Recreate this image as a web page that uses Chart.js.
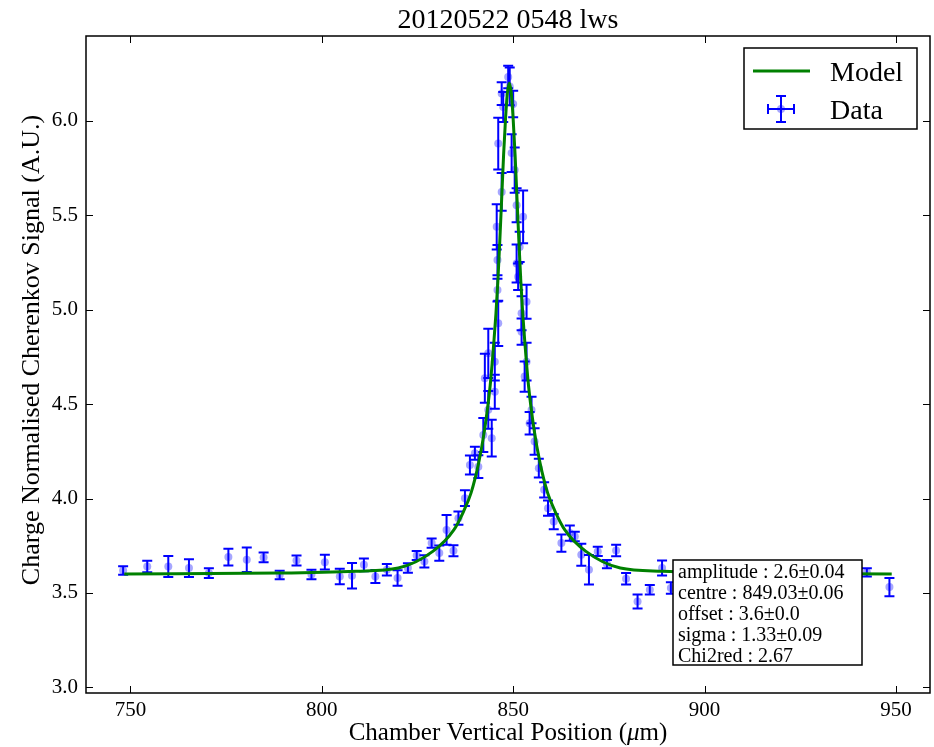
<!DOCTYPE html>
<html>
<head>
<meta charset="utf-8">
<script src="https://cdn.jsdelivr.net/npm/chart.js@4.4.0/dist/chart.umd.min.js"></script>
<style>
  body { margin: 0; background: #fff; }
  canvas { display: block; }
</style>
</head>
<body>
<canvas id="scan" width="934" height="747"></canvas>
<script>
// measured scan points (position, signal, error on signal)
const dataX = [748.1, 754.4, 759.9, 765.3, 770.5, 775.6, 780.4, 784.8, 789.0, 793.4,
  797.3, 800.8, 804.7, 807.9, 811.0, 814.0, 817.0, 819.8, 822.5, 824.8,
  826.8, 828.7, 830.7, 832.6, 834.4, 835.7, 837.4, 838.7, 840.0, 840.9,
  842.2, 842.6, 843.5, 843.5, 844.4, 845.2, 845.2, 845.7, 845.9, 845.9,
  846.1, 846.1, 847.0, 847.0, 847.4, 848.7, 849.1, 849.6, 850.0, 850.4,
  850.9, 850.9, 851.3, 851.7, 852.2, 852.2, 852.6, 853.0, 853.5, 853.5,
  854.3, 854.8, 855.6, 856.7, 858.1, 859.1, 860.6, 862.6, 864.8, 866.1,
  867.8, 869.8, 872.1, 874.5, 876.9, 879.5, 882.5, 885.7, 888.9, 891.2,
  942.4, 948.3];
const dataY = [3.619, 3.640, 3.640, 3.632, 3.605, 3.690, 3.676, 3.688, 3.595, 3.672,
  3.598, 3.663, 3.587, 3.591, 3.649, 3.587, 3.623, 3.579, 3.632, 3.698,
  3.667, 3.764, 3.711, 3.834, 3.723, 3.896, 4.002, 4.178, 4.240, 4.169,
  4.337, 4.637, 4.470, 4.769, 4.320, 4.566, 4.725, 5.439, 5.104, 5.263,
  4.928, 5.880, 5.624, 6.145, 6.074, 6.233, 6.183, 5.830, 6.090, 5.740,
  5.554, 5.245, 5.175, 5.333, 4.981, 4.884, 5.492, 4.646, 5.042, 4.725,
  4.399, 4.469, 4.302, 4.161, 4.046, 3.949, 3.878, 3.764, 3.817, 3.799,
  3.702, 3.623, 3.720, 3.653, 3.725, 3.575, 3.455, 3.517, 3.632, 3.526,
  3.609, 3.531];
const dataErr = [0.022, 0.031, 0.056, 0.047, 0.026, 0.044, 0.065, 0.026, 0.022, 0.026,
  0.025, 0.039, 0.041, 0.067, 0.034, 0.034, 0.030, 0.041, 0.025, 0.024,
  0.032, 0.024, 0.040, 0.079, 0.029, 0.035, 0.042, 0.050, 0.035, 0.060,
  0.090, 0.130, 0.100, 0.130, 0.097, 0.090, 0.100, 0.120, 0.060, 0.080,
  0.120, 0.137, 0.100, 0.060, 0.080, 0.060, 0.100, 0.100, 0.070, 0.120,
  0.090, 0.100, 0.070, 0.080, 0.090, 0.070, 0.140, 0.080, 0.090, 0.100,
  0.060, 0.070, 0.070, 0.050, 0.040, 0.040, 0.040, 0.046, 0.040, 0.025,
  0.058, 0.078, 0.024, 0.022, 0.030, 0.030, 0.037, 0.025, 0.040, 0.030,
  0.022, 0.048];

// fitted model curve
const modelX = [748.4, 789, 809, 820, 829, 834.5, 837, 839, 841, 842.5,
  844, 845, 845.5, 846, 846.5, 847, 847.5, 848, 848.5, 849,
  849.5, 850, 850.5, 851, 851.5, 852, 852.5, 853, 854, 855.5,
  857, 859, 861, 863.5, 869, 878, 889, 909, 948.9];
const modelY = [3.600, 3.605, 3.615, 3.632, 3.720, 3.834, 3.930, 4.030, 4.190, 4.360,
  4.600, 4.840, 4.980, 5.150, 5.360, 5.590, 5.820, 6.010, 6.150, 6.200,
  6.150, 6.010, 5.820, 5.590, 5.360, 5.150, 4.980, 4.840, 4.600, 4.360,
  4.190, 4.030, 3.930, 3.834, 3.720, 3.632, 3.615, 3.605, 3.600];

const xTicks = [750, 800, 850, 900, 950];
const yTicks = [3.0, 3.5, 4.0, 4.5, 5.0, 5.5, 6.0];
const fitLines = ['amplitude : 2.6\u00b10.04', 'centre : 849.03\u00b10.06',
  'offset : 3.6\u00b10.0', 'sigma : 1.33\u00b10.09', 'Chi2red : 2.67'];

const FONT = "'Liberation Serif', 'DejaVu Serif', serif";
const BLUE = '#0000ff';
const GREEN = '#008000';
const DOT = 'rgba(0,0,255,0.35)';

// error bars under the markers
const errorBars = {
  id: 'errorBars',
  beforeDatasetsDraw(chart) {
    const { ctx, chartArea, scales: { x, y } } = chart;
    ctx.save();
    ctx.beginPath();
    ctx.rect(chartArea.left, chartArea.top, chartArea.right - chartArea.left, chartArea.bottom - chartArea.top);
    ctx.clip();
    ctx.strokeStyle = BLUE;
    ctx.lineWidth = 2;
    dataX.forEach((v, i) => {
      const px = x.getPixelForValue(v);
      const top = y.getPixelForValue(dataY[i] + dataErr[i]);
      const bot = y.getPixelForValue(dataY[i] - dataErr[i]);
      ctx.beginPath();
      ctx.moveTo(px, top); ctx.lineTo(px, bot);
      ctx.moveTo(px - 5, top); ctx.lineTo(px + 5, top);
      ctx.moveTo(px - 5, bot); ctx.lineTo(px + 5, bot);
      ctx.stroke();
    });
    ctx.restore();
  }
};

// frame, inward ticks, titles, legend and fit box
const decorations = {
  id: 'decorations',
  afterDraw(chart) {
    const { ctx, chartArea: ca, scales: { x, y } } = chart;
    ctx.save();

    // inward tick marks on all four sides
    ctx.strokeStyle = '#000';
    ctx.lineWidth = 1;
    xTicks.forEach(v => {
      const px = Math.round(x.getPixelForValue(v)) + 0.5;
      ctx.beginPath();
      ctx.moveTo(px, ca.bottom); ctx.lineTo(px, ca.bottom - 7);
      ctx.moveTo(px, ca.top); ctx.lineTo(px, ca.top + 7);
      ctx.stroke();
    });
    yTicks.forEach(v => {
      const py = Math.round(y.getPixelForValue(v)) + 0.5;
      ctx.beginPath();
      ctx.moveTo(ca.left, py); ctx.lineTo(ca.left + 7, py);
      ctx.moveTo(ca.right, py); ctx.lineTo(ca.right - 7, py);
      ctx.stroke();
    });

    // frame
    ctx.lineWidth = 1.5;
    ctx.strokeRect(ca.left, ca.top, ca.right - ca.left, ca.bottom - ca.top);

    // title
    const cx = (ca.left + ca.right) / 2;
    ctx.fillStyle = '#000';
    ctx.textAlign = 'center';
    ctx.textBaseline = 'alphabetic';
    ctx.font = '28px ' + FONT;
    ctx.fillText('20120522 0548 lws', cx, 28);

    // x axis title with italic mu
    const parts = [['Chamber Vertical Position (', false], ['\u03bc', true], ['m)', false]];
    ctx.textAlign = 'left';
    let total = 0;
    parts.forEach(p => {
      ctx.font = (p[1] ? 'italic ' : '') + '25px ' + FONT;
      total += ctx.measureText(p[0]).width;
    });
    let sx = cx - total / 2;
    parts.forEach(p => {
      ctx.font = (p[1] ? 'italic ' : '') + '25px ' + FONT;
      ctx.fillText(p[0], sx, 740);
      sx += ctx.measureText(p[0]).width;
    });

    // y axis title
    ctx.save();
    ctx.translate(39, 350);
    ctx.rotate(-Math.PI / 2);
    ctx.textAlign = 'center';
    ctx.font = '26px ' + FONT;
    ctx.fillText('Charge Normalised Cherenkov Signal (A.U.)', 0, 0);
    ctx.restore();

    // legend
    const lx = ca.right - 186, ly = ca.top + 12;
    ctx.fillStyle = '#fff';
    ctx.fillRect(lx, ly, 173, 81);
    ctx.strokeStyle = '#000';
    ctx.lineWidth = 1.5;
    ctx.strokeRect(lx, ly, 173, 81);
    ctx.strokeStyle = GREEN;
    ctx.lineWidth = 3;
    ctx.beginPath();
    ctx.moveTo(lx + 9, ly + 23); ctx.lineTo(lx + 66, ly + 23);
    ctx.stroke();
    const gx = lx + 37, gy = ly + 61;
    ctx.fillStyle = DOT;
    ctx.beginPath(); ctx.arc(gx, gy, 4, 0, Math.PI * 2); ctx.fill();
    ctx.strokeStyle = BLUE;
    ctx.lineWidth = 2;
    ctx.beginPath();
    ctx.moveTo(gx - 13, gy); ctx.lineTo(gx + 13, gy);
    ctx.moveTo(gx - 13, gy - 5); ctx.lineTo(gx - 13, gy + 5);
    ctx.moveTo(gx + 13, gy - 5); ctx.lineTo(gx + 13, gy + 5);
    ctx.moveTo(gx, gy - 13); ctx.lineTo(gx, gy + 13);
    ctx.moveTo(gx - 5, gy - 13); ctx.lineTo(gx + 5, gy - 13);
    ctx.moveTo(gx - 5, gy + 13); ctx.lineTo(gx + 5, gy + 13);
    ctx.stroke();
    ctx.fillStyle = '#000';
    ctx.textAlign = 'left';
    ctx.font = '28px ' + FONT;
    ctx.fillText('Model', lx + 86, ly + 33);
    ctx.fillText('Data', lx + 86, ly + 71);

    // fit results box
    const bx = ca.left + 587, by = ca.top + 524;
    ctx.fillStyle = '#fff';
    ctx.fillRect(bx, by, 189, 105);
    ctx.strokeStyle = '#000';
    ctx.lineWidth = 1.5;
    ctx.strokeRect(bx, by, 189, 105);
    ctx.fillStyle = '#000';
    ctx.font = '20px ' + FONT;
    fitLines.forEach((t, i) => ctx.fillText(t, bx + 5, by + 18 + i * 21));

    ctx.restore();
  }
};

const ctx = document.getElementById('scan').getContext('2d');
new Chart(ctx, {
  type: 'scatter',
  data: {
    datasets: [
      {
        label: 'Model',
        data: modelX.map((v, i) => ({ x: v, y: modelY[i] })),
        showLine: true,
        borderColor: GREEN,
        borderWidth: 3,
        pointRadius: 0,
        cubicInterpolationMode: 'monotone',
        fill: false
      },
      {
        label: 'Data',
        data: dataX.map((v, i) => ({ x: v, y: dataY[i] })),
        pointRadius: 4,
        pointBackgroundColor: DOT,
        pointBorderWidth: 0,
        showLine: false
      }
    ]
  },
  options: {
    responsive: false,
    animation: false,
    layout: { padding: { top: 36, right: 3, left: 0, bottom: 0 } },
    plugins: {
      legend: { display: false },
      tooltip: { enabled: false },
      title: { display: false }
    },
    scales: {
      x: {
        type: 'linear',
        min: 738.4,
        max: 958.9,
        afterBuildTicks: s => { s.ticks = xTicks.map(v => ({ value: v })); },
        afterFit: s => { s.height = 54; },
        grid: { display: false, drawTicks: false },
        border: { display: false },
        ticks: { color: '#000', padding: 5, maxRotation: 0, font: { family: FONT, size: 21 } }
      },
      y: {
        type: 'linear',
        min: 2.97,
        max: 6.45,
        afterBuildTicks: s => { s.ticks = yTicks.map(v => ({ value: v })); },
        afterFit: s => { s.width = 86; },
        grid: { display: false, drawTicks: false },
        border: { display: false },
        ticks: {
          color: '#000',
          padding: 8,
          font: { family: FONT, size: 21 },
          callback: v => Number(v).toFixed(1)
        }
      }
    }
  },
  plugins: [errorBars, decorations]
});
</script>
</body>
</html>
